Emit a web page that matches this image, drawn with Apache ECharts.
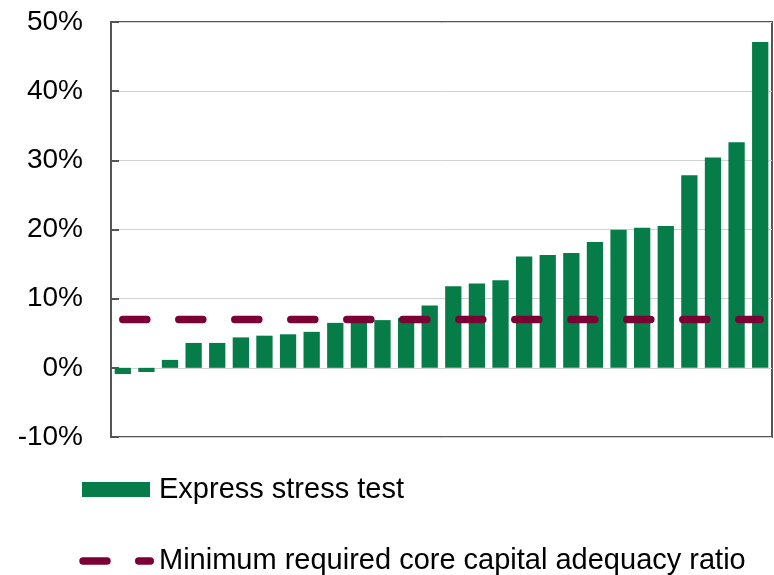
<!DOCTYPE html>
<html>
<head>
<meta charset="utf-8">
<script src="https://cdn.jsdelivr.net/npm/echarts@6/dist/echarts.min.js"></script>
<style>
  html, body { margin: 0; padding: 0; background: #ffffff; }
  #chart { width: 774px; height: 575px; }
</style>
</head>
<body>
<div id="chart"></div>
<script>
// Banks sorted by core capital adequacy ratio after the express stress test
const banks = Array.from({ length: 28 }, (_, i) => 'Bank ' + (i + 1));
const stressRatio = [
  -0.9, -0.6, 1.15, 3.6, 3.6, 4.4, 4.65, 4.85, 5.2, 6.5,
  7.0, 6.9, 7.2, 9.0, 11.8, 12.2, 12.65, 16.1, 16.3, 16.6,
  18.2, 19.95, 20.25, 20.5, 27.85, 30.4, 32.6, 47.1
];
const minimumRatio = 7;
const minimumLine = banks.map(() => minimumRatio);
const yTicks = { min: -10, max: 50, step: 10 };

const seriesNames = ['Express stress test', 'Minimum required core capital adequacy ratio'];
const font = 'Liberation Sans, Arial, sans-serif';

// Legend key for the threshold: one full rounded dash and a shorter one after a gap
const dashKeyPath = 'path://M3.75,0 L27.65,0 A3.75,3.75 0 0 1 27.65,7.5 L3.75,7.5 A3.75,3.75 0 0 1 3.75,0 Z ' +
                    'M59.45,0 L70.95,0 A3.75,3.75 0 0 1 70.95,7.5 L59.45,7.5 A3.75,3.75 0 0 1 59.45,0 Z';

const chart = echarts.init(document.getElementById('chart'), null, { renderer: 'canvas' });

chart.setOption({
  animation: false,
  backgroundColor: '#ffffff',
  textStyle: { fontFamily: font },
  grid: {
    left: 111, right: 2, top: 22, bottom: 138,
    show: true, borderColor: '#555555', borderWidth: 2, backgroundColor: 'transparent'
  },
  legend: [
    {
      data: [seriesNames[0]],
      left: 77, top: 470,
      itemWidth: 68, itemHeight: 15,
      icon: 'rect',
      textStyle: { fontSize: 29, color: '#000000', fontFamily: font, padding: [0, 0, 0, 4] }
    },
    {
      data: [{ name: seriesNames[1], icon: dashKeyPath }],
      left: 74.3, top: 541.5,
      itemWidth: 74.7, itemHeight: 7.5,
      itemStyle: { color: '#7B0034', borderWidth: 0 },
      textStyle: { fontSize: 29, color: '#000000', fontFamily: font }
    }
  ],
  xAxis: {
    type: 'category',
    data: banks,
    boundaryGap: true,
    axisLine: { show: false },
    axisTick: { show: false },
    axisLabel: { show: false },
    splitLine: { show: false }
  },
  yAxis: {
    type: 'value',
    min: yTicks.min, max: yTicks.max, interval: yTicks.step,
    axisLine: { show: true, lineStyle: { color: '#555555', width: 2 } },
    axisTick: { show: true, inside: true, length: 8, lineStyle: { color: '#555555', width: 2 } },
    axisLabel: {
      formatter: '{value}%', fontSize: 28, color: '#000000', margin: 28, fontFamily: font
    },
    splitLine: { show: true, lineStyle: { color: '#d2d2d2', width: 1 } }
  },
  series: [
    {
      name: seriesNames[0],
      type: 'bar',
      data: stressRatio,
      barCategoryGap: '31%',
      itemStyle: { color: '#067D48' },
      z: 2
    },
    {
      name: seriesNames[1],
      type: 'line',
      data: minimumLine,
      symbol: 'none',
      itemStyle: { color: '#7B0034' },
      lineStyle: {
        color: '#7B0034', width: 7.5,
        type: [24, 32], cap: 'round', dashOffset: 0
      },
      z: 3
    }
  ]
});
</script>
</body>
</html>
